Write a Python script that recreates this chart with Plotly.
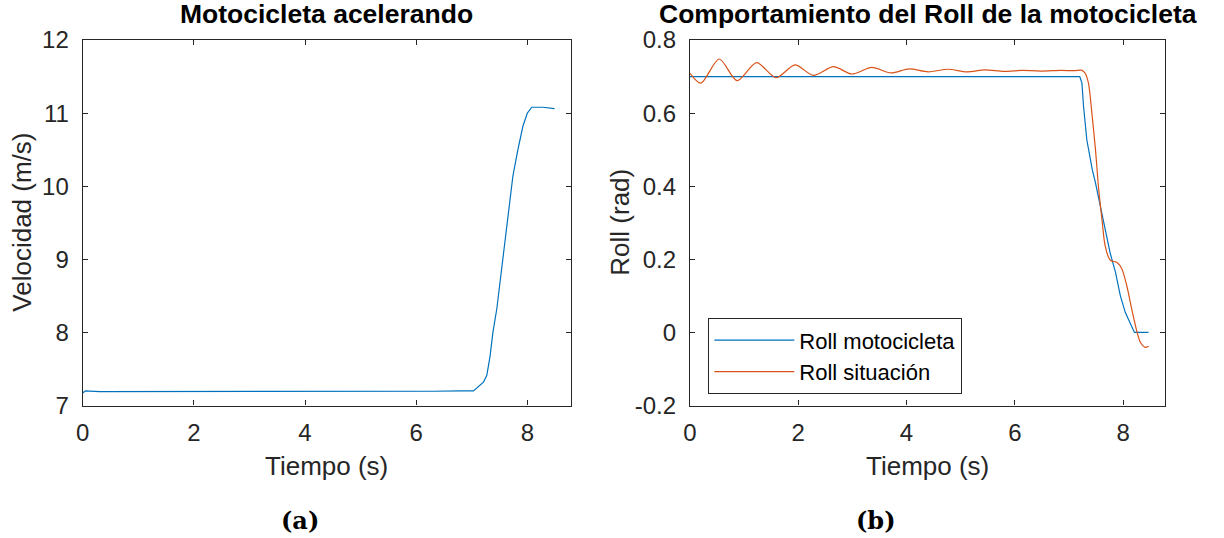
import plotly.graph_objects as go

# ---- data ----
t_vel = [0, 0.05, 0.3, 0.8, 1.3, 1.8, 2.3, 2.8, 3.3, 3.8, 4.3, 4.8, 5.3, 5.8, 6.3, 6.8,
         7.03, 7.21, 7.27, 7.33, 7.38, 7.45, 7.51, 7.56, 7.63, 7.69, 7.74, 7.83, 7.92,
         8.0, 8.08, 8.28, 8.49]
velocidad = [7.17, 7.20, 7.19, 7.19, 7.185, 7.19, 7.185, 7.185, 7.19, 7.185, 7.19, 7.185,
             7.19, 7.19, 7.195, 7.20, 7.20, 7.32, 7.41, 7.68, 8.0, 8.32, 8.68, 9.04, 9.41,
             9.77, 10.14, 10.50, 10.82, 11.0, 11.08, 11.08, 11.06]

t_moto = [0, 7.2, 7.24, 7.27, 7.33, 7.43, 7.49, 7.58, 7.67, 7.76, 7.86, 7.95, 8.04, 8.21, 8.47]
roll_moto = [0.7, 0.7, 0.682, 0.618, 0.527, 0.446, 0.409, 0.345, 0.282, 0.218, 0.164,
             0.100, 0.055, 0.0, 0.0]

t_sit = [0, 0.2, 0.54, 0.87, 1.23, 1.59, 1.94, 2.28, 2.65, 2.99, 3.36, 3.71, 4.05, 4.40,
         4.77, 5.11, 5.45, 5.8, 6.15, 6.5, 6.85, 7.1, 7.24, 7.30, 7.36, 7.43, 7.49, 7.55,
         7.61, 7.67, 7.76, 7.89, 7.98, 8.07, 8.16, 8.26, 8.32, 8.41, 8.47]
roll_sit = [0.709, 0.682, 0.748, 0.689, 0.738, 0.697, 0.732, 0.703, 0.727, 0.707, 0.725,
            0.710, 0.721, 0.713, 0.720, 0.713, 0.718, 0.714, 0.717, 0.715, 0.717, 0.716,
            0.717, 0.709, 0.682, 0.591, 0.500, 0.391, 0.309, 0.236, 0.198, 0.191, 0.173,
            0.127, 0.064, 0.0, -0.027, -0.041, -0.038]

x_ticks = [0, 2, 4, 6, 8]
vel_ticks = [7, 8, 9, 10, 11, 12]
roll_ticks = [-0.2, 0, 0.2, 0.4, 0.6, 0.8]
roll_ticktext = ["-0.2", "0", "0.2", "0.4", "0.6", "0.8"]

BLUE = "#0072BD"
ORANGE = "#D95319"
AX = "#262626"
FONT = "Liberation Sans"

W, H = 1224, 538

fig = go.Figure()
fig.add_trace(go.Scatter(x=t_vel, y=velocidad, mode="lines", line=dict(color=BLUE, width=1.2),
                         showlegend=False, xaxis="x", yaxis="y"))
fig.add_trace(go.Scatter(x=t_moto, y=roll_moto, mode="lines", line=dict(color=BLUE, width=1.2),
                         name="Roll motocicleta", xaxis="x2", yaxis="y2"))
fig.add_trace(go.Scatter(x=t_sit, y=roll_sit, mode="lines",
                         line=dict(color=ORANGE, width=1.2, shape="spline", smoothing=0.8),
                         name="Roll situación", xaxis="x2", yaxis="y2"))

ydom = [1 - 405.5 / H, 1 - 40 / H]
common = dict(showline=True, linecolor=AX, linewidth=1.2, mirror="ticks", ticks="inside",
              ticklen=5, tickcolor=AX, showgrid=False, zeroline=False, automargin=False,
              tickfont=dict(family=FONT, size=24, color=AX))

fig.update_layout(
    width=W, height=H, margin=dict(l=0, r=0, t=0, b=0, autoexpand=False),
    paper_bgcolor="white", plot_bgcolor="white",
    xaxis=dict(domain=[82.7 / W, 570.7 / W], range=[0, 8.78], tickvals=x_ticks,
               anchor="y", ticklabelstandoff=6, **common),
    yaxis=dict(domain=ydom, range=[7, 12], tickvals=vel_ticks, anchor="x",
               ticklabelstandoff=8, **common),
    xaxis2=dict(domain=[690 / W, 1165.3 / W], range=[0, 8.78], tickvals=x_ticks,
                anchor="y2", ticklabelstandoff=6, **common),
    yaxis2=dict(domain=ydom, range=[-0.2, 0.8], tickvals=roll_ticks, ticktext=roll_ticktext,
                anchor="x2", ticklabelstandoff=8, **common),
    legend=dict(x=708.3 / W, y=1 - 318.3 / H, xanchor="left", yanchor="top",
                bgcolor="white", bordercolor=AX, borderwidth=1, itemwidth=80,
                font=dict(family=FONT, size=22, color="black")),
)

def ann(text, x, y, size, bold=False, angle=0, family=FONT, color="black"):
    fig.add_annotation(text=f"<b>{text}</b>" if bold else text, x=x / W, y=1 - y / H,
                       xref="paper", yref="paper", showarrow=False, textangle=angle,
                       xanchor="center", yanchor="middle",
                       font=dict(family=family, size=size, color=color))

ann("Motocicleta acelerando", 326.7, 14, 26.5, bold=True)
ann("Comportamiento del Roll de la motocicleta", 927.7, 14, 26.5, bold=True)
ann("Velocidad (m/s)", 22, 222.7, 26, angle=-90, color=AX)
ann("Roll (rad)", 620, 222.7, 26, angle=-90, color=AX)
ann("Tiempo (s)", 326.7, 466, 26, color=AX)
ann("Tiempo (s)", 927.7, 466, 26, color=AX)
ann("(a)", 300, 520, 24, bold=True, family="DejaVu Serif")
ann("(b)", 876, 520, 24, bold=True, family="DejaVu Serif")

fig.write_html("out.html")
